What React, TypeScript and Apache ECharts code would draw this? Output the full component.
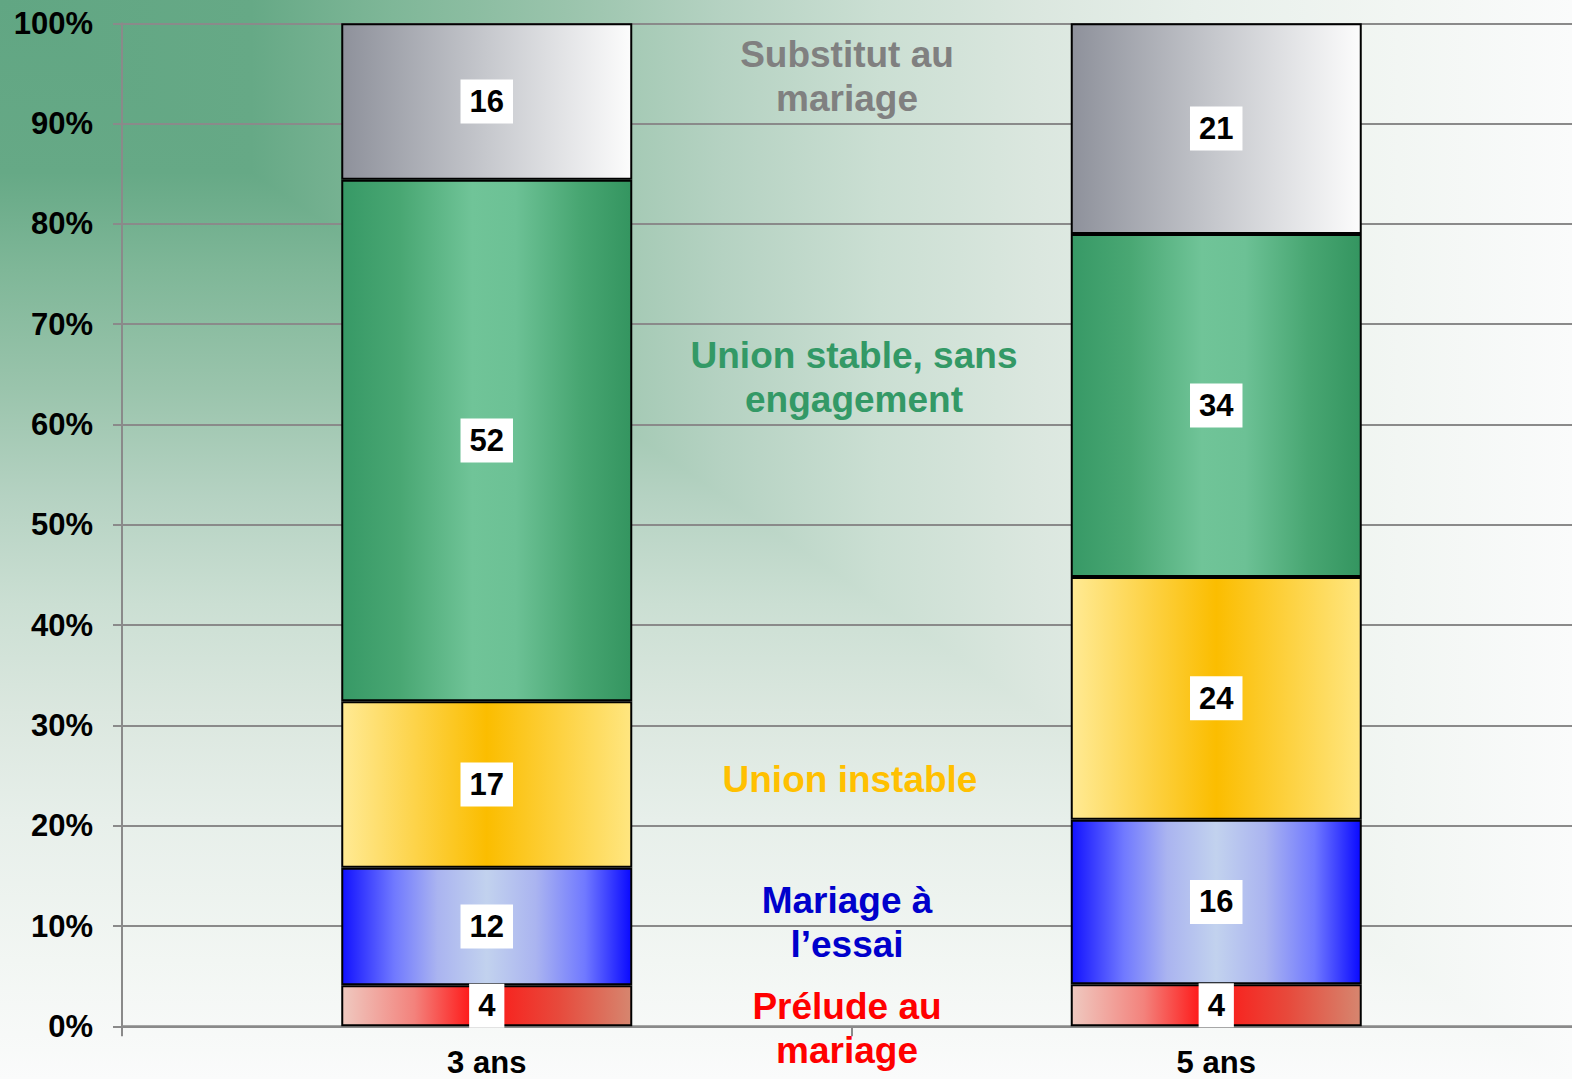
import React, { useEffect, useRef } from "react";
import * as echarts from "echarts";

// ---- Data (segment shares in %) ----
const categories = ["3 ans", "5 ans"];
const preludeAuMariage = [4.1, 4.2];
const mariageAEssai = [11.7, 16.4];
const unionInstable = [16.6, 24.2];
const unionStable = [52.0, 34.2];
const substitutMariage = [15.6, 21.0];
const yTickLabels = ["0%", "10%", "20%", "30%", "40%", "50%", "60%", "70%", "80%", "90%", "100%"];

const W = 1572;
const H = 1079;
const FONT = '"Liberation Sans", Arial, Helvetica, sans-serif';

const hGrad = (stops: [number, string][]) => ({
  type: "linear",
  x: 0,
  y: 0,
  x2: 1,
  y2: 0,
  colorStops: stops.map(([offset, color]) => ({ offset, color })),
});
const vGrad = (stops: [number, string][]) => ({
  type: "linear",
  x: 0,
  y: 0,
  x2: 0,
  y2: 1,
  colorStops: stops.map(([offset, color]) => ({ offset, color })),
});

const bgStops: [number, string][] = [
  [0, "#61a683"],
  [0.16, "#66a986"],
  [0.25, "#7fb798"],
  [0.36, "#9ac4ac"],
  [0.46, "#b5d2c2"],
  [0.56, "#cbdfd3"],
  [0.66, "#dbe7df"],
  [0.76, "#e7efea"],
  [0.89, "#f2f6f3"],
  [1, "#fafbfb"],
];

const segments = [
  {
    name: "Prélude au mariage",
    data: preludeAuMariage,
    fill: hGrad([
      [0, "#efc9c0"],
      [0.25, "#f3827c"],
      [0.46, "#ff1212"],
      [0.75, "#e74a3c"],
      [1, "#d6866f"],
    ]),
  },
  {
    name: "Mariage à l'essai",
    data: mariageAEssai,
    fill: hGrad([
      [0, "#1212ff"],
      [0.18, "#7079ff"],
      [0.33, "#aab4f0"],
      [0.5, "#c2d2ee"],
      [0.67, "#aab4f0"],
      [0.84, "#7079ff"],
      [1, "#0a0aff"],
    ]),
  },
  {
    name: "Union instable",
    data: unionInstable,
    fill: hGrad([
      [0, "#ffea94"],
      [0.5, "#fbbd00"],
      [1, "#ffe680"],
    ]),
  },
  {
    name: "Union stable, sans engagement",
    data: unionStable,
    fill: hGrad([
      [0, "#379966"],
      [0.2, "#49a773"],
      [0.45, "#70c498"],
      [0.6, "#6cc195"],
      [0.82, "#48a672"],
      [1, "#349560"],
    ]),
  },
  {
    name: "Substitut au mariage",
    data: substitutMariage,
    fill: hGrad([
      [0, "#8e919b"],
      [0.5, "#c6c8cd"],
      [1, "#fcfcfc"],
    ]),
  },
];

const annotations = [
  { text: "Substitut au\nmariage", x: 847, y: 76, color: "#808080" },
  { text: "Union stable, sans\nengagement", x: 854, y: 377, color: "#339966" },
  { text: "Union instable", x: 850, y: 779, color: "#ffc000" },
  { text: "Mariage à\nl’essai", x: 847, y: 922, color: "#0000cc" },
  { text: "Prélude au\nmariage", x: 847, y: 1028, color: "#ff0000" },
];

export default function App() {
  const ref = useRef<HTMLDivElement>(null);

  useEffect(() => {
    if (!ref.current) return;
    const chart = echarts.init(ref.current, undefined, { renderer: "svg", width: W, height: H });

    const option: any = {
      animation: false,
      backgroundColor: "#ffffff",
      textStyle: { fontFamily: FONT },
      grid: {
        left: 122,
        top: 23.3,
        width: 1459,
        height: 1003,
        containLabel: false,
        outerBoundsMode: "none",
      },
      xAxis: {
        type: "category",
        data: categories,
        axisLine: { show: true, lineStyle: { color: "#8a8a8a", width: 2.5 } },
        axisTick: { show: true, length: 10, lineStyle: { color: "#8a8a8a", width: 2 } },
        axisLabel: {
          color: "#000",
          fontSize: 31,
          fontWeight: "bold",
          fontFamily: FONT,
          lineHeight: 28,
          margin: 22,
        },
        splitLine: { show: false },
        z: 1,
      },
      yAxis: {
        type: "value",
        min: 0,
        max: 100,
        interval: 10,
        axisLine: { show: true, lineStyle: { color: "#8a8a8a", width: 2 } },
        axisTick: { show: true, length: 9, lineStyle: { color: "#8a8a8a", width: 2 } },
        axisLabel: {
          color: "#000",
          fontSize: 31,
          fontWeight: "bold",
          fontFamily: FONT,
          margin: 29,
          formatter: (v: number) => yTickLabels[Math.round(v / 10)] ?? `${v}%`,
        },
        splitLine: { show: true, lineStyle: { color: "#8a8a8a", width: 2 } },
        z: 1,
      },
      series: segments.map((s) => ({
        name: s.name,
        type: "bar",
        stack: "total",
        barWidth: 291,
        data: s.data,
        silent: true,
        z: 3,
        itemStyle: {
          color: s.fill,
          borderColor: "#000",
          borderWidth: 2,
        },
        label: {
          show: true,
          position: "inside",
          formatter: (p: any) => `${Math.round(p.value)}`,
          color: "#000",
          fontSize: 31,
          fontWeight: "bold",
          fontFamily: FONT,
          backgroundColor: "#ffffff",
          padding: [5, 9],
          lineHeight: 34,
        },
      })),
      graphic: [
        {
          type: "rect",
          z: -10,
          silent: true,
          shape: { x: 0, y: 0, width: W, height: H },
          style: { fill: vGrad(bgStops) },
        },
        {
          type: "polygon",
          z: -9,
          silent: true,
          shape: { points: [[0, 0], [W, 0], [W, H]] },
          style: { fill: hGrad(bgStops) },
        },
        ...annotations.map((a) => ({
          type: "text",
          z: 10,
          silent: true,
          x: a.x,
          y: a.y,
          style: {
            text: a.text,
            fill: a.color,
            fontSize: 37,
            fontWeight: "bold",
            fontFamily: FONT,
            lineHeight: 44,
            align: "center",
            verticalAlign: "middle",
          },
        })),
      ],
    };

    chart.setOption(option);
    return () => chart.dispose();
  }, []);

  return (
    <div
      ref={ref}
      style={{ position: "fixed", left: 0, top: 0, width: W, height: H }}
    />
  );
}
